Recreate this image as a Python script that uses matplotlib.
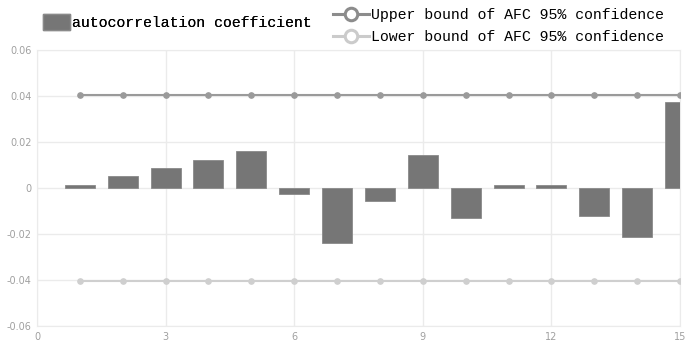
import numpy as np
import matplotlib.pyplot as plt
from matplotlib.patches import Patch
from matplotlib.lines import Line2D

# ── Data ────────────────────────────────────────────────────────────────────
lags = list(range(1, 16))
acf = [0.0012, 0.0053, 0.0087, 0.0121, 0.0160, -0.0026, -0.0238, -0.0057,
       0.0143, -0.0130, 0.0013, 0.0015, -0.0122, -0.0215, 0.0373]
upper = [0.0405] * 15
lower = [-0.0405] * 15
x_ticks = [0, 3, 6, 9, 12, 15]
y_ticks = [-0.06, -0.04, -0.02, 0, 0.02, 0.04, 0.06]
y_labels = ["-0.06", "-0.04", "-0.02", "0", "0.02", "0.04", "0.06"]

BAR_C = "#767676"
UP_C = "#9a9a9a"
LO_C = "#cfcfcf"
GRID_C = "#ebebeb"
TICK_C = "#a0a0a0"
LEG_FONT = "Liberation Mono"
LEG_SIZE = 10.7

fig = plt.figure(figsize=(6.88, 3.49), dpi=100)
ax = fig.add_axes([37 / 688, 23 / 349, 643 / 688, 276 / 349])

ax.bar(lags, acf, width=0.7, color=BAR_C, edgecolor="#8a8a8a", linewidth=0.6, zorder=3)
ax.plot(lags, upper, color=UP_C, lw=1.5, marker="o", ms=3.8,
        mfc=UP_C, mec=UP_C, zorder=4)
ax.plot(lags, lower, color=LO_C, lw=1.5, marker="o", ms=3.8,
        mfc=LO_C, mec=LO_C, zorder=4)

ax.set_xlim(0, 15)
ax.set_ylim(-0.06, 0.06)
ax.set_xticks(x_ticks)
ax.set_yticks(y_ticks)
ax.set_yticklabels(y_labels)
ax.grid(True, color=GRID_C, lw=1, zorder=0)
for s in ax.spines.values():
    s.set_color(GRID_C)
ax.tick_params(length=0, labelsize=7, colors=TICK_C, pad=4)

# legends
h1 = [Patch(facecolor=BAR_C, edgecolor="#8a8a8a", label="autocorrelation coefficient")]
leg1 = fig.legend(handles=h1, loc="center left", bbox_to_anchor=(43 / 688, 1 - 22 / 349),
                  frameon=False, prop={"family": LEG_FONT, "size": LEG_SIZE},
                  handlelength=1.8, handleheight=1.27, handletextpad=0.13,
                  borderpad=0, borderaxespad=0)
h2 = [Line2D([0], [0], color="#8c8c8c", lw=2.2, marker="o", ms=9, mfc="white",
             mec="#8c8c8c", mew=2.2, label="Upper bound of AFC 95% confidence"),
      Line2D([0], [0], color="#cbcbcb", lw=2.2, marker="o", ms=9, mfc="white",
             mec="#cbcbcb", mew=2.2, label="Lower bound of AFC 95% confidence")]
fig.legend(handles=h2, loc="center left", bbox_to_anchor=(333 / 688, 1 - 26 / 349),
           frameon=False, prop={"family": LEG_FONT, "size": LEG_SIZE},
           handlelength=2.45, handletextpad=0.13, labelspacing=0.5,
           borderpad=0, borderaxespad=0)
fig.add_artist(leg1)

fig.savefig("out.png", dpi=100)
